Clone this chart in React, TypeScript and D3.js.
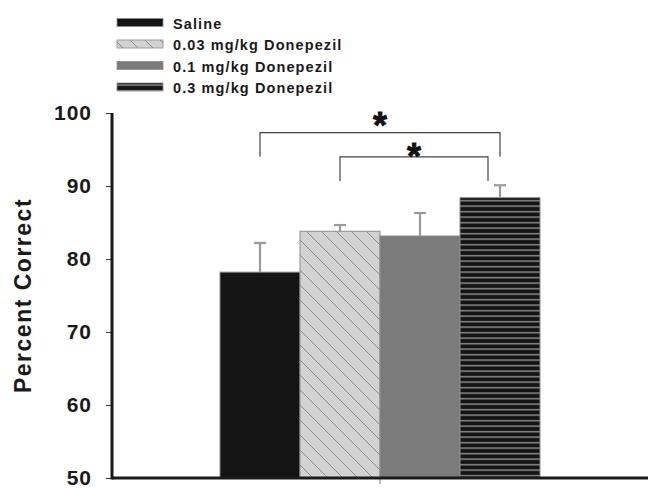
import React, { useRef, useEffect } from 'react';
import * as d3 from 'd3';

const groups = [''];
const seriesNames = ['Saline', '0.03 mg/kg Donepezil', '0.1 mg/kg Donepezil', '0.3 mg/kg Donepezil'];
const means = [78.2, 83.8, 83.15, 88.4];
const sems = [4.0, 0.85, 3.15, 1.7];
const yTicks = [50, 60, 70, 80, 90, 100];
// significance brackets: from / to series index, bar height, leg bottom, star level
const bracketFrom = [0, 1];
const bracketTo = [3, 3];
const bracketTop = [97.3, 94.0];
const bracketLeg = [94.0, 90.7];
const starLevel = [99.3, 95.1];

const FONT = '"Liberation Sans", Arial, Helvetica, sans-serif';

const App = () => {
  const svgRef = useRef(null);

  useEffect(() => {
    const width = 649;
    const height = 488;
    const left = 112;
    const right = 648;

    const svg = d3.select(svgRef.current)
      .attr('width', width)
      .attr('height', height);
    svg.selectAll('*').remove();

    const defs = svg.append('defs');
    const hatch = defs.append('pattern')
      .attr('id', 'hatch')
      .attr('patternUnits', 'userSpaceOnUse')
      .attr('width', 15)
      .attr('height', 15);
    hatch.append('rect').attr('width', 15).attr('height', 15).attr('fill', '#d2d2d2');
    hatch.append('path')
      .attr('d', 'M0,0 L15,15 M-3,12 L3,18 M12,-3 L18,3')
      .attr('stroke', '#8a8a8a')
      .attr('stroke-width', 1);

    const lines = defs.append('pattern')
      .attr('id', 'hlines')
      .attr('patternUnits', 'userSpaceOnUse')
      .attr('width', 10)
      .attr('height', 5.5);
    lines.append('rect').attr('width', 10).attr('height', 5.5).attr('fill', '#141414');
    lines.append('rect').attr('y', 2).attr('width', 10).attr('height', 1.3).attr('fill', '#9a9a9a');

    const fills = ['#141414', 'url(#hatch)', '#7b7b7b', 'url(#hlines)'];

    const x0 = d3.scaleBand()
      .domain(groups)
      .range([left, right])
      .paddingInner(0)
      .paddingOuter(0.3375);

    const x1 = d3.scaleBand()
      .domain(d3.range(seriesNames.length).map(String))
      .range([0, x0.bandwidth()]);

    const y = d3.scaleLinear()
      .domain([50, 100])
      .range([478, 113]);

    const cx = (i) => x0(groups[0]) + x1(String(i)) + x1.bandwidth() / 2;

    // bars
    svg.append('g')
      .selectAll('rect')
      .data(means)
      .enter().append('rect')
      .attr('x', (d, i) => x0(groups[0]) + x1(String(i)))
      .attr('y', d => y(d))
      .attr('width', x1.bandwidth())
      .attr('height', d => y(50) - y(d))
      .attr('fill', (d, i) => fills[i])
      .attr('stroke', '#8c8c8c')
      .attr('stroke-width', 1);

    // error bars
    const err = svg.append('g').attr('stroke', '#9a9a9a').attr('stroke-width', 2.2);
    means.forEach((m, i) => {
      err.append('line')
        .attr('x1', cx(i)).attr('x2', cx(i))
        .attr('y1', y(m)).attr('y2', y(m + sems[i]));
      err.append('line')
        .attr('x1', cx(i) - 6).attr('x2', cx(i) + 6)
        .attr('y1', y(m + sems[i])).attr('y2', y(m + sems[i]));
    });

    // axes
    const yAxis = svg.append('g')
      .attr('transform', `translate(${left}, 0)`)
      .call(d3.axisLeft(y).tickValues(yTicks).tickSize(6).tickPadding(14));
    yAxis.select('.domain').remove();
    yAxis.selectAll('.tick line').attr('stroke', '#333').attr('stroke-width', 1);
    yAxis.selectAll('.tick text')
      .attr('fill', '#1a1a1a')
      .style('font-family', FONT)
      .style('font-size', '21px')
      .style('font-weight', 'bold')
      .style('letter-spacing', '1px');

    svg.append('line')
      .attr('x1', left).attr('x2', left)
      .attr('y1', y(100)).attr('y2', y(50) + 1.5)
      .attr('stroke', '#1a1a1a').attr('stroke-width', 3);

    const xAxis = svg.append('g')
      .attr('transform', `translate(0, ${y(50)})`)
      .call(d3.axisBottom(x0).tickSize(6).tickFormat(() => ''));
    xAxis.select('.domain').remove();
    xAxis.selectAll('.tick line').attr('stroke', '#777').attr('stroke-width', 1);

    svg.append('line')
      .attr('x1', left).attr('x2', right)
      .attr('y1', y(50)).attr('y2', y(50))
      .attr('stroke', '#1a1a1a').attr('stroke-width', 3);

    svg.append('text')
      .attr('transform', `translate(23, ${(y(50) + y(100)) / 2}) rotate(-90)`)
      .attr('text-anchor', 'middle')
      .attr('dominant-baseline', 'central')
      .attr('fill', '#1a1a1a')
      .style('font-family', FONT)
      .style('font-size', '23px')
      .style('font-weight', 'bold')
      .style('letter-spacing', '1.5px')
      .text('Percent Correct');

    // significance brackets
    bracketFrom.forEach((from, k) => {
      const xa = cx(from);
      const xb = cx(bracketTo[k]) - (k > 0 ? 12 : 0);
      svg.append('path')
        .attr('d', `M${xa},${y(bracketLeg[k])} V${y(bracketTop[k])} H${xb} V${y(bracketLeg[k])}`)
        .attr('fill', 'none')
        .attr('stroke', '#444')
        .attr('stroke-width', 1.2);
      svg.append('text')
        .attr('x', (xa + xb) / 2)
        .attr('y', y(starLevel[k]) + 20)
        .attr('text-anchor', 'middle')
        .attr('fill', '#111')
        .attr('stroke', '#111')
        .attr('stroke-width', 0.8)
        .style('font-family', FONT)
        .style('font-size', '36px')
        .style('font-weight', 'bold')
        .text('*');
    });

    // legend
    const legend = svg.append('g');
    seriesNames.forEach((name, i) => {
      const ly = 22.5 + i * 21.5;
      legend.append('rect')
        .attr('x', 117).attr('y', ly - 4)
        .attr('width', 46).attr('height', 8)
        .attr('fill', fills[i])
        .attr('stroke', '#8c8c8c')
        .attr('stroke-width', 0.8);
      legend.append('text')
        .attr('x', 173).attr('y', ly + 1)
        .attr('dominant-baseline', 'central')
        .attr('fill', '#1a1a1a')
        .style('font-family', FONT)
        .style('font-size', '14.5px')
        .style('font-weight', 'bold')
        .style('letter-spacing', '1.1px')
        .text(name);
    });
  }, []);

  return <svg ref={svgRef} style={{ position: 'absolute', left: 0, top: 0, background: '#fff' }}></svg>;
};

export default App;
